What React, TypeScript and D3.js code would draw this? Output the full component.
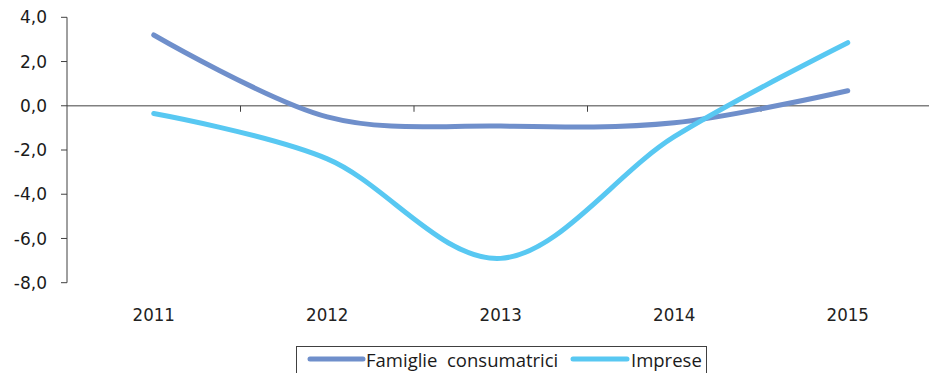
import React from "react";
import * as d3 from "d3";

const categories = ["2011", "2012", "2013", "2014", "2015"];
const famiglie = [3.2, -0.5, -0.92, -0.77, 0.68];
const imprese = [-0.35, -2.4, -6.9, -1.4, 2.85];
const yTicks = [4, 2, 0, -2, -4, -6, -8];
const seriesNames = ["Famiglie  consumatrici", "Imprese"];
const colors = ["#6F8FCB", "#58C8F2"];

const W = 929;
const H = 373;

export default function App() {
  const x = d3.scaleBand<string>().domain(categories).range([67, 934.5]).paddingInner(0).paddingOuter(0);
  const y = d3.scaleLinear().domain([-8, 4]).range([282.7, 17.3]);
  const fmt = (v: number) => v.toFixed(1).replace(".", ",");
  const line = d3
    .line<number>()
    .x((_, i) => (x(categories[i]) as number) + x.bandwidth() / 2)
    .y((d) => y(d))
    .curve(d3.curveCardinal.tension(0));
  const series = [famiglie, imprese];
  const boundaries = categories.slice(1).map((c) => x(c) as number);

  return (
    <svg width={W} height={H} style={{ position: "absolute", left: 0, top: 0, background: "#fff" }}>
      {/* zero line */}
      <line x1={67} x2={W} y1={y(0)} y2={y(0)} stroke="#808080" strokeWidth={1.5} />
      {boundaries.map((b, i) => (
        <line key={i} x1={b} x2={b} y1={y(0)} y2={y(0) + 6} stroke="#404040" strokeWidth={1} />
      ))}
      {/* y axis */}
      <line x1={67} x2={67} y1={y(4)} y2={y(-8)} stroke="#404040" strokeWidth={1} />
      {yTicks.map((t) => (
        <g key={t}>
          <line x1={61} x2={67} y1={y(t)} y2={y(t)} stroke="#404040" strokeWidth={1} />
          <text
            x={47}
            y={y(t)}
            dy="0.36em"
            textAnchor="end"
            fontFamily="DejaVu Sans"
            fontSize={17}
            fill="#1a1a1a"
          >
            {fmt(t)}
          </text>
        </g>
      ))}
      {categories.map((c) => (
        <text
          key={c}
          x={(x(c) as number) + x.bandwidth() / 2}
          y={321}
          textAnchor="middle"
          fontFamily="'DejaVu Sans Condensed', 'DejaVu Sans'"
          fontStretch="condensed"
          fontSize={18.5}
          fill="#222"
        >
          {c}
        </text>
      ))}
      {series.map((s, i) => (
        <path
          key={i}
          d={line(s) as string}
          fill="none"
          stroke={colors[i]}
          strokeWidth={5}
          strokeLinecap="round"
        />
      ))}
      {/* legend */}
      <rect x={296.5} y={346.5} width={410} height={40} fill="#fff" stroke="#404040" strokeWidth={1} />
      <line x1={310} x2={363} y1={359} y2={359} stroke={colors[0]} strokeWidth={5} strokeLinecap="round" />
      <text x={366} y={367} fontFamily="'Open Sans'" fontSize={18.5} fill="#1a1a1a" style={{ whiteSpace: "pre" }}>
        {seriesNames[0]}
      </text>
      <line x1={573} x2={627} y1={359} y2={359} stroke={colors[1]} strokeWidth={5} strokeLinecap="round" />
      <text x={631} y={367} fontFamily="'Open Sans'" fontSize={18.5} fill="#1a1a1a">
        {seriesNames[1]}
      </text>
    </svg>
  );
}
